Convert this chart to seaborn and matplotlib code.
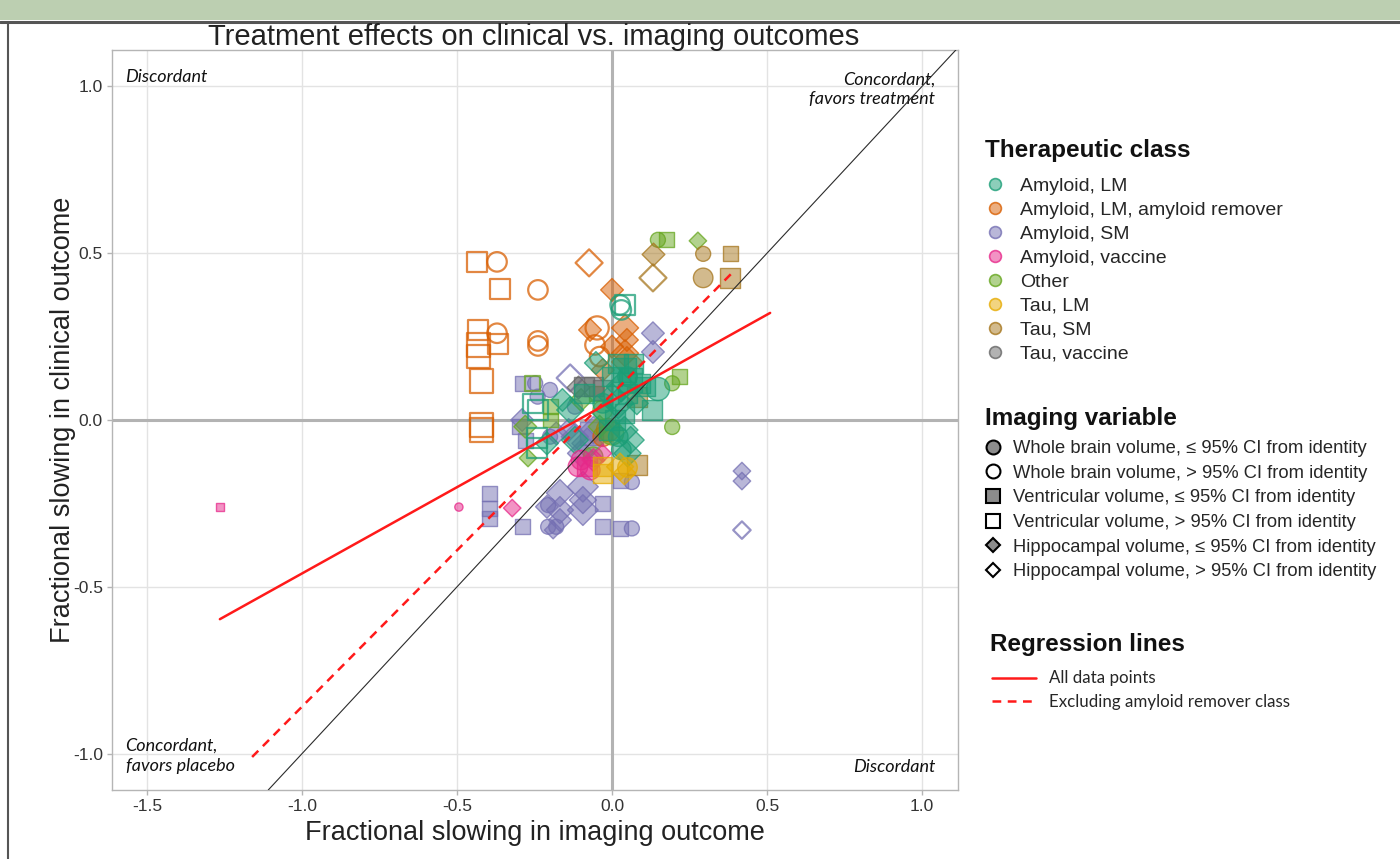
import numpy as np
import pandas as pd
import matplotlib
matplotlib.use("Agg")
import matplotlib.pyplot as plt
import matplotlib.colors as mcolors
from matplotlib.lines import Line2D
from matplotlib.patches import Rectangle
import seaborn as sns

# ---------------- data ----------------
CLASSES = ["Amyloid, LM", "Amyloid, LM, amyloid remover", "Amyloid, SM",
           "Amyloid, vaccine", "Other", "Tau, LM", "Tau, SM", "Tau, vaccine"]
COLORS = ["#1b9e77", "#d95f02", "#7570b3", "#e7298a", "#66a61e", "#e6ab02", "#a6761d", "#666666"]

# imaging variable: W = whole brain, V = ventricular, H = hippocampal
# CI flag: i = within 95% CI from identity (filled), o = outside (open)
AMY_LM_X = [0.026, 0.042, 0.030, -0.255, -0.239, -0.242, -0.242,
            0.02, 0.04, 0.06, 0.03, 0.00, 0.05, 0.148, 0.106, 0.129, -0.052, -0.135, -0.12,
            0.04, 0.06, 0.05, 0.01, -0.03, 0.08, -0.09, -0.16, 0.03, -0.01, 0.02, 0.07,
            -0.21, 0.05, -0.02, 0.02, 0.04, 0.09, 0.00]
AMY_LM_Y = [0.345, 0.345, 0.330, 0.05, 0.03, -0.054, -0.084,
            0.17, 0.15, 0.12, 0.10, 0.13, 0.08, 0.093, 0.10, 0.03, 0.171, 0.03, -0.06,
            -0.03, -0.06, -0.10, 0.00, 0.05, 0.05, 0.08, 0.06, -0.09, -0.03, 0.05, 0.17,
            -0.07, 0.13, 0.02, -0.05, 0.02, 0.11, 0.07]
AMY_LM_IMG = "WVWVVVV" + "VVVHVVWVVHHHHHHVWHVHWVHVHWHWVVH"
AMY_LM_CI = "ooooooo" + "iiiiiiiiiiiiiiiiiiiiiiiiiiiiiii"
AMY_LM_N = [3, 3, 3, 3, 3, 3, 3,
            3, 4, 4, 5, 3, 3, 4, 3, 3, 3, 4, 4,
            4, 4, 4, 3, 3, 3, 3, 3, 3, 3, 5, 3,
            3, 3, 4, 3, 3, 3, 4]

AMY_REM_X = [-0.435, -0.371, -0.361, -0.239, -0.432, -0.432, -0.432, -0.420, -0.371, -0.368,
             -0.239, -0.239, -0.420, -0.420, -0.074, -0.048, -0.055, -0.040,
             0.000, -0.071, 0.042, 0.000, 0.048, 0.042, 0.048, -0.030, -0.013, -0.030]
AMY_REM_Y = [0.474, 0.474, 0.392, 0.390, 0.270, 0.225, 0.190, 0.117, 0.260, 0.228,
             0.222, 0.237, -0.015, -0.030, 0.471, 0.276, 0.225, 0.190,
             0.390, 0.270, 0.276, 0.220, 0.240, 0.200, 0.174, 0.150, -0.030, -0.050]
AMY_REM_IMG = "VWVWVVVVWVWWVVHWWW" + "HHHHHHHHWW"
AMY_REM_CI = "oooooooooooooooooo" + "iiiiiiiiii"
AMY_REM_N = [3, 3, 3, 3, 3, 4, 4, 4, 3, 3, 3, 3, 4, 4, 4, 4, 3, 3,
             3, 3, 4, 3, 3, 4, 5, 3, 4, 3]

AMY_SM_X = [-0.394, -0.394, -0.394, -0.290, -0.030, -0.030, 0.026, 0.026, -0.290, -0.300, -0.280,
            0.064, 0.064, -0.206, -0.206, -0.180, -0.248, -0.240, -0.200, -0.200, -0.120,
            -0.168, -0.094, -0.094, -0.094, -0.168, -0.168, -0.210, -0.190, 0.132, 0.132,
            0.419, 0.419, -0.120, -0.140, -0.080, -0.060, -0.100, -0.180, -0.290, -0.065,
            -0.135, 0.419]
AMY_SM_Y = [-0.219, -0.264, -0.294, -0.320, -0.250, -0.320, -0.325, -0.180, 0.110, -0.020, -0.060,
            -0.325, -0.186, -0.255, -0.320, -0.320, 0.110, 0.070, 0.090, -0.050, 0.040,
            -0.219, -0.200, -0.240, -0.270, -0.270, -0.300, -0.260, -0.330, 0.260, 0.204,
            -0.153, -0.183, -0.050, -0.030, -0.070, -0.030, -0.100, -0.040, 0.000, -0.040,
            0.126, -0.330]
AMY_SM_IMG = "VVVVVVVVVVV" + "WWWWWWWWWW" + "HHHHHHHHHHHHHHHHHHHV" + "HH"
AMY_SM_CI = "iiiiiiiiiii" + "iiiiiiiiii" + "iiiiiiiiiiiiiiiiiiii" + "oo"
AMY_SM_N = [2, 2, 2, 2, 2, 2, 2, 2, 2, 2, 2,
            2, 2, 2, 2, 2, 2, 2, 2, 2, 2,
            4, 5, 4, 5, 4, 3, 3, 2, 3, 3, 2, 2, 4, 3, 5, 4, 4, 3, 3, 4,
            4, 2]

AMY_VAC_X = [-1.265, -0.494, -0.322, -0.110, -0.080, -0.060, -0.100, -0.070, -0.030]
AMY_VAC_Y = [-0.261, -0.261, -0.264, -0.140, -0.140, -0.120, -0.120, -0.150, -0.100]
AMY_VAC_IMG = "VWHWVHWWH"
AMY_VAC_CI = "iiiiiiiii"
AMY_VAC_N = [1, 1, 2, 3, 3, 3, 3, 3, 2]

OTHER_X = [0.148, 0.177, 0.277, 0.219, 0.194, 0.194, -0.271, -0.061, -0.280, -0.200, -0.200,
           -0.050, -0.030, -0.100, 0.000, -0.040, -0.258]
OTHER_Y = [0.540, 0.540, 0.537, 0.130, 0.110, -0.021, -0.114, -0.110, -0.020, 0.040, 0.000,
           0.080, 0.030, 0.060, -0.040, -0.020, 0.110]
OTHER_IMG = "WVHVWWHWHVVVWHWHV"
OTHER_CI = "iiiiiiiiiiiiiiiio"
OTHER_N = [2, 2, 2, 2, 2, 2, 2, 3, 3, 2, 2, 2, 3, 3, 4, 3, 2]

TAU_LM_X = [-0.030, -0.030, 0.026, 0.048, 0.040]
TAU_LM_Y = [-0.140, -0.160, -0.140, -0.140, -0.160]
TAU_LM_IMG = "VVHWH"
TAU_LM_CI = "iiiii"
TAU_LM_N = [3, 3, 4, 3, 3]

TAU_SM_X = [0.132, 0.132, 0.294, 0.381, 0.294, 0.381, 0.080, 0.080]
TAU_SM_Y = [0.498, 0.426, 0.498, 0.500, 0.426, 0.426, 0.069, -0.135]
TAU_SM_IMG = "HHWVWVVV"
TAU_SM_CI = "ioiiiiii"
TAU_SM_N = [3, 4, 2, 2, 3, 3, 3, 3]

TAU_VAC_X = [-0.110, -0.090, -0.060, -0.030]
TAU_VAC_Y = [0.100, 0.100, 0.100, 0.090]
TAU_VAC_IMG = "HVVV"
TAU_VAC_CI = "iiii"
TAU_VAC_N = [3, 3, 3, 3]

# regression lines (end points)
REG_ALL_X = [-1.265, 0.51]
REG_ALL_Y = [-0.597, 0.321]
REG_EXCL_X = [-1.161, 0.397]
REG_EXCL_Y = [-1.010, 0.450]

X_TICKS = [-1.5, -1.0, -0.5, 0.0, 0.5, 1.0]
Y_TICKS = [-1.0, -0.5, 0.0, 0.5, 1.0]

IMG_LABELS = ["Whole brain volume, \u2264 95% CI from identity",
              "Whole brain volume, > 95% CI from identity",
              "Ventricular volume, \u2264 95% CI from identity",
              "Ventricular volume, > 95% CI from identity",
              "Hippocampal volume, \u2264 95% CI from identity",
              "Hippocampal volume, > 95% CI from identity"]

# ---------------- assemble ----------------
groups = {
    "Amyloid, LM": (AMY_LM_X, AMY_LM_Y, AMY_LM_IMG, AMY_LM_CI, AMY_LM_N),
    "Amyloid, LM, amyloid remover": (AMY_REM_X, AMY_REM_Y, AMY_REM_IMG, AMY_REM_CI, AMY_REM_N),
    "Amyloid, SM": (AMY_SM_X, AMY_SM_Y, AMY_SM_IMG, AMY_SM_CI, AMY_SM_N),
    "Amyloid, vaccine": (AMY_VAC_X, AMY_VAC_Y, AMY_VAC_IMG, AMY_VAC_CI, AMY_VAC_N),
    "Other": (OTHER_X, OTHER_Y, OTHER_IMG, OTHER_CI, OTHER_N),
    "Tau, LM": (TAU_LM_X, TAU_LM_Y, TAU_LM_IMG, TAU_LM_CI, TAU_LM_N),
    "Tau, SM": (TAU_SM_X, TAU_SM_Y, TAU_SM_IMG, TAU_SM_CI, TAU_SM_N),
    "Tau, vaccine": (TAU_VAC_X, TAU_VAC_Y, TAU_VAC_IMG, TAU_VAC_CI, TAU_VAC_N),
}
frames = []
for cls, (xs, ys, img, ci, n) in groups.items():
    frames.append(pd.DataFrame({"x": xs, "y": ys, "img": list(img), "ci": list(ci),
                                "n": n, "cls": cls}))
df = pd.concat(frames, ignore_index=True)
palette = dict(zip(CLASSES, COLORS))

MARKERS = {"W": "o", "V": "s", "H": "D"}
SIZE_SCALE = {"W": 1.0, "V": 1.0, "H": 0.68}
DRAW_ORDER = ["Amyloid, SM", "Amyloid, LM, amyloid remover", "Other", "Tau, vaccine",
              "Tau, SM", "Amyloid, LM", "Amyloid, vaccine", "Tau, LM"]

# ---------------- figure ----------------
sns.set_theme(style="whitegrid")
plt.rcParams["font.family"] = ["Liberation Sans", "DejaVu Sans"]

W, H = 1400, 859
fig = plt.figure(figsize=(W / 100, H / 100), dpi=100)
fig.patch.set_facecolor("white")

ax = fig.add_axes([112 / W, (H - 790) / H, 846 / W, 740 / H])
ax.set_facecolor("white")
ax.set_xlim(-1.613, 1.116)
ax.set_ylim(-1.109, 1.109)

ax.grid(True, color="#e3e3e3", lw=1.0)
ax.set_axisbelow(True)
for sp in ax.spines.values():
    sp.set_color("#b5b5b5")
    sp.set_linewidth(1.0)

ax.axhline(0, color="#b3b3b3", lw=2.2, zorder=1)
ax.axvline(0, color="#b3b3b3", lw=2.2, zorder=1)

# points
for cls in DRAW_ORDER:
    rgb = mcolors.to_rgb(palette[cls])
    sub_c = df[df.cls == cls]
    for img in ["W", "V", "H"]:
        for ci in ["i", "o"]:
            sub = sub_c[(sub_c.img == img) & (sub_c.ci == ci)]
            if sub.empty:
                continue
            sc = SIZE_SCALE[img]
            if ci == "i":
                face = rgb + (0.5,)
                lw = 1.0
            else:
                face = "none"
                lw = 1.6
            sns.scatterplot(data=sub, x="x", y="y", size="n",
                            sizes=(35 * sc, 360 * sc), size_norm=(1, 5),
                            marker=MARKERS[img], facecolor=face,
                            edgecolor=rgb + (0.75,), linewidth=lw,
                            legend=False, ax=ax, zorder=3)

# identity line
ax.axline((0, 0), slope=1, color="#2b2b2b", lw=0.8, zorder=4)
# regression lines
sns.lineplot(x=REG_ALL_X, y=REG_ALL_Y, color="#ff1a1a", lw=1.8, ax=ax, zorder=5)
sns.lineplot(x=REG_EXCL_X, y=REG_EXCL_Y, color="#ff1a1a", lw=1.8, ax=ax, zorder=5,
             linestyle=(0, (3.5, 2.6)))

ax.set_xticks(X_TICKS)
ax.set_yticks(Y_TICKS)
ax.set_xticklabels([f"{v:.1f}" for v in X_TICKS])
ax.set_yticklabels([f"{v:.1f}" for v in Y_TICKS])
ax.tick_params(axis="both", which="both", length=3.5, width=1, color="#b5b5b5",
               labelsize=12.5, labelcolor="#333333", pad=3, bottom=True, left=True)
ax.set_xlabel("Fractional slowing in imaging outcome", fontsize=19.5, color="#222222", labelpad=4)
ax.set_ylabel("Fractional slowing in clinical outcome", fontsize=19.5, color="#222222", labelpad=-2)
fig.text(534 / W, 1 - 45 / H, "Treatment effects on clinical vs. imaging outcomes",
         fontsize=21, color="#222222", ha="center", va="baseline")

# quadrant labels
qfont = dict(family=["Lato", "DejaVu Sans"], style="italic", fontsize=13, color="#111111")
ax.text(0.016, 0.963, "Discordant", transform=ax.transAxes, ha="left", va="center", **qfont)
ax.text(0.973, 0.947, "Concordant,\nfavors treatment", transform=ax.transAxes,
        ha="right", va="center", multialignment="right", linespacing=1.3, **qfont)
ax.text(0.016, 0.046, "Concordant,\nfavors placebo", transform=ax.transAxes,
        ha="left", va="center", linespacing=1.3, **qfont)
ax.text(0.973, 0.031, "Discordant", transform=ax.transAxes, ha="right", va="center", **qfont)

# ---------------- legends ----------------
fig.text(985 / W, 1 - 151 / H, "Therapeutic class", fontsize=17.5, fontweight="bold",
         ha="left", va="center", color="#111111")
cls_handles = [Line2D([], [], ls="", marker="o", markersize=8.5,
                      markerfacecolor=mcolors.to_rgb(c) + (0.5,),
                      markeredgecolor=mcolors.to_rgb(c) + (0.8,), markeredgewidth=1.2)
               for c in COLORS]
leg1 = fig.legend(cls_handles, CLASSES, loc="upper left",
                  bbox_to_anchor=(985 / W, 1 - 177 / H), frameon=False,
                  fontsize=14, borderpad=0, borderaxespad=0, handlelength=1.03,
                  handletextpad=0.77, labelspacing=0.33)

fig.text(985 / W, 1 - 418 / H, "Imaging variable", fontsize=17.5, fontweight="bold",
         ha="left", va="center", color="#111111")
shapes = ["o", "o", "s", "s", "D", "D"]
fills = ["#8c8c8c", "white", "#8c8c8c", "white", "#8c8c8c", "white"]
msz = {"o": 10, "s": 10, "D": 7.5}
img_handles = [Line2D([], [], ls="", marker=m, markersize=msz[m],
                      markerfacecolor=f, markeredgecolor="black", markeredgewidth=1.5)
               for m, f in zip(shapes, fills)]
leg2 = fig.legend(img_handles, IMG_LABELS, loc="upper left",
                  bbox_to_anchor=(985 / W, 1 - 440 / H), frameon=False,
                  fontsize=13.2, borderpad=0, borderaxespad=0, handlelength=0.87,
                  handletextpad=0.65, labelspacing=0.42)

fig.text(990 / W, 1 - 645 / H, "Regression lines", fontsize=17.5, fontweight="bold",
         ha="left", va="center", color="#111111")
reg_handles = [Line2D([], [], color="#ff1a1a", lw=1.8),
               Line2D([], [], color="#ff1a1a", lw=1.8, ls=(0, (3.5, 2.6)))]
leg3 = fig.legend(reg_handles, ["All data points", "Excluding amyloid remover class"],
                  loc="upper left", bbox_to_anchor=(992 / W, 1 - 670.5 / H), frameon=False,
                  prop={"family": ["Lato", "DejaVu Sans"], "size": 12.2},
                  borderpad=0, borderaxespad=0, handlelength=2.6,
                  handletextpad=0.78, labelspacing=0.42)

# ---------------- page chrome ----------------
fig.add_artist(Rectangle((0, 1 - 20 / H), 1, 20 / H, transform=fig.transFigure,
                         facecolor="#bccfb1", edgecolor="none", zorder=0))
fig.add_artist(Line2D([0, 1], [1 - 21.5 / H, 1 - 21.5 / H], transform=fig.transFigure,
                      color="#555555", lw=2.2))
fig.add_artist(Line2D([8 / W, 8 / W], [0, 1 - 21.5 / H], transform=fig.transFigure,
                      color="#555555", lw=1.5))

fig.savefig("out.png", dpi=100)
